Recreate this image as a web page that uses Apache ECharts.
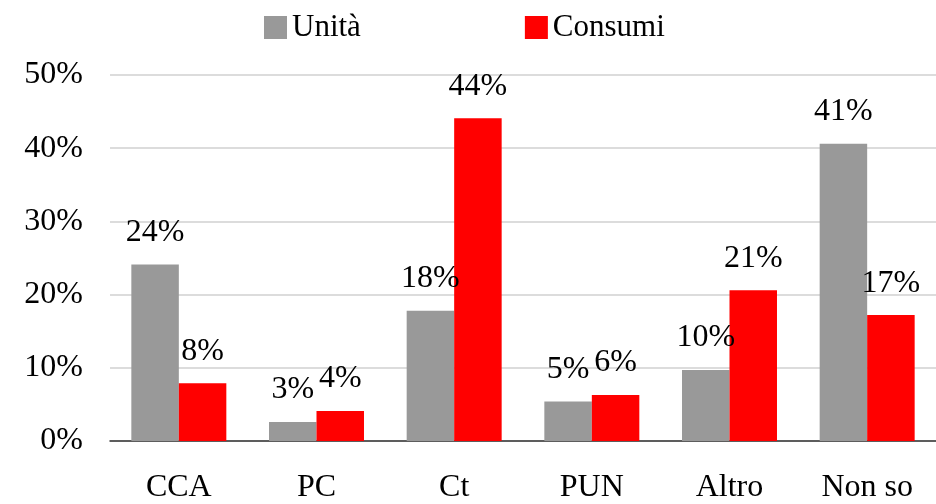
<!DOCTYPE html>
<html>
<head>
<meta charset="utf-8">
<script src="https://cdn.jsdelivr.net/npm/echarts@6/dist/echarts.min.js"></script>
<style>
  html, body { margin: 0; padding: 0; background: #fff; }
  #chart { width: 936px; height: 504px; }
</style>
</head>
<body>
<div id="chart"></div>
<script>
const categories = ["CCA", "PC", "Ct", "PUN", "Altro", "Non so"];
const unitaValues = [24.1, 2.6, 17.8, 5.4, 9.7, 40.6];
const consumiValues = [7.9, 4.1, 44.1, 6.3, 20.6, 17.2];
const seriesNames = ["Unità", "Consumi"];

const font = "'Liberation Serif', 'Times New Roman', serif";
const chart = echarts.init(document.getElementById("chart"));

const labelStyle = {
  show: true,
  position: "top",
  distance: 16,
  fontFamily: font,
  fontSize: 32,
  color: "#000",
  formatter: p => Math.round(p.value) + "%"
};

chart.setOption({
  animation: false,
  textStyle: { fontFamily: font },
  legend: {
    data: seriesNames,
    left: 264,
    top: 12,
    padding: 0,
    itemWidth: 23,
    itemHeight: 23,
    itemGap: 164,
    icon: "rect",
    textStyle: { fontFamily: font, fontSize: 31, color: "#000" }
  },
  grid: {
    left: 110,
    top: 75,
    width: 834,
    bottom: 63,
    containLabel: false
  },
  xAxis: {
    type: "category",
    data: categories,
    axisLine: { lineStyle: { color: "#333", width: 1.5 } },
    axisTick: { show: false },
    axisLabel: {
      margin: 31,
      fontFamily: font,
      fontSize: 32,
      color: "#000"
    }
  },
  yAxis: {
    type: "value",
    min: 0,
    max: 50,
    interval: 10,
    axisLine: { show: false },
    axisTick: { show: false },
    splitLine: { lineStyle: { color: "#d0d0d0", width: 1.5 } },
    axisLabel: {
      margin: 27,
      fontFamily: font,
      fontSize: 32,
      color: "#000",
      formatter: "{value}%"
    }
  },
  series: [
    {
      name: seriesNames[0],
      type: "bar",
      data: unitaValues,
      barGap: 0,
      barCategoryGap: "31%",
      itemStyle: { color: "#999999" },
      label: labelStyle
    },
    {
      name: seriesNames[1],
      type: "bar",
      data: consumiValues,
      barGap: 0,
      barCategoryGap: "31%",
      itemStyle: { color: "#ff0000" },
      label: labelStyle
    }
  ]
});
</script>
</body>
</html>
